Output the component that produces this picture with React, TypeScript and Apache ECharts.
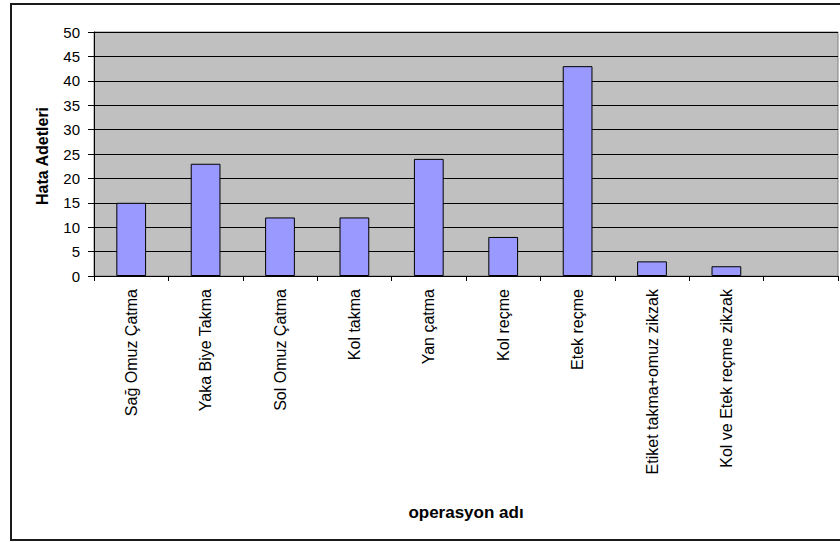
import React, { useEffect, useRef } from "react";
import * as echarts from "echarts";

// Operations (last slot is an empty category)
const operations: string[] = [
  "Sağ Omuz Çatma",
  "Yaka Biye Takma",
  "Sol Omuz Çatma",
  "Kol takma",
  "Yan çatma",
  "Kol reçme",
  "Etek reçme",
  "Etiket takma+omuz zikzak",
  "Kol ve Etek reçme zikzak",
  "",
];

// Defect counts per operation
const defectCounts: (number | null)[] = [15, 23, 12, 12, 24, 8, 43, 3, 2, null];

const yTicks = { min: 0, max: 50, interval: 5 };

const xAxisTitle = "operasyon adı";
const yAxisTitle = "Hata Adetleri";

const FONT = "'Liberation Sans', Arial, sans-serif";

export default function App() {
  const ref = useRef<HTMLDivElement | null>(null);

  useEffect(() => {
    if (!ref.current) return;
    const chart = echarts.init(ref.current, null, { renderer: "svg" });
    chart.setOption({
      animation: false,
      backgroundColor: "#ffffff",
      textStyle: { fontFamily: FONT },
      grid: {
        left: 94,
        right: 2,
        top: 32,
        height: 244,
        show: true,
        backgroundColor: "#C0C0C0",
        borderColor: "#808080",
        borderWidth: 1,
        containLabel: false,
      },
      graphic: [
        {
          type: "rect",
          z: -10,
          silent: true,
          shape: { x: 11, y: 4, width: 840, height: 536 },
          style: { fill: "none", stroke: "#1a1a1a", lineWidth: 2 },
        },
        {
          type: "text",
          x: 466,
          y: 512,
          style: {
            text: xAxisTitle,
            fontFamily: FONT,
            fontSize: 17,
            fontWeight: "bold",
            fill: "#000",
            align: "center",
            verticalAlign: "middle",
          },
        },
        {
          type: "text",
          x: 42,
          y: 156,
          rotation: Math.PI / 2,
          style: {
            text: yAxisTitle,
            fontFamily: FONT,
            fontSize: 16,
            fontWeight: "bold",
            fill: "#000",
            align: "center",
            verticalAlign: "middle",
          },
        },
      ],
      xAxis: {
        type: "category",
        data: operations,
        boundaryGap: true,
        axisLine: { show: true, lineStyle: { color: "#000", width: 1 } },
        axisTick: { show: true, interval: 0, length: 5, lineStyle: { color: "#000" } },
        axisLabel: {
          interval: 0,
          rotate: 90,
          margin: 13,
          fontSize: 16,
          color: "#000",
          fontFamily: FONT,
        },
        splitLine: { show: false },
      },
      yAxis: {
        type: "value",
        min: yTicks.min,
        max: yTicks.max,
        interval: yTicks.interval,
        axisLine: { show: true, lineStyle: { color: "#000", width: 1 } },
        axisTick: { show: true, length: 6, lineStyle: { color: "#000" } },
        axisLabel: { fontSize: 15, color: "#000", margin: 14, fontFamily: FONT },
        splitLine: { show: true, lineStyle: { color: "#000", width: 1 } },
      },
      series: [
        {
          type: "bar",
          data: defectCounts,
          barCategoryGap: "60%",
          itemStyle: { color: "#9999FF", borderColor: "#000", borderWidth: 1 },
        },
      ],
    });
    return () => chart.dispose();
  }, []);

  return (
    <div
      ref={ref}
      style={{ position: "fixed", left: 0, top: 0, width: 840, height: 542 }}
    />
  );
}
